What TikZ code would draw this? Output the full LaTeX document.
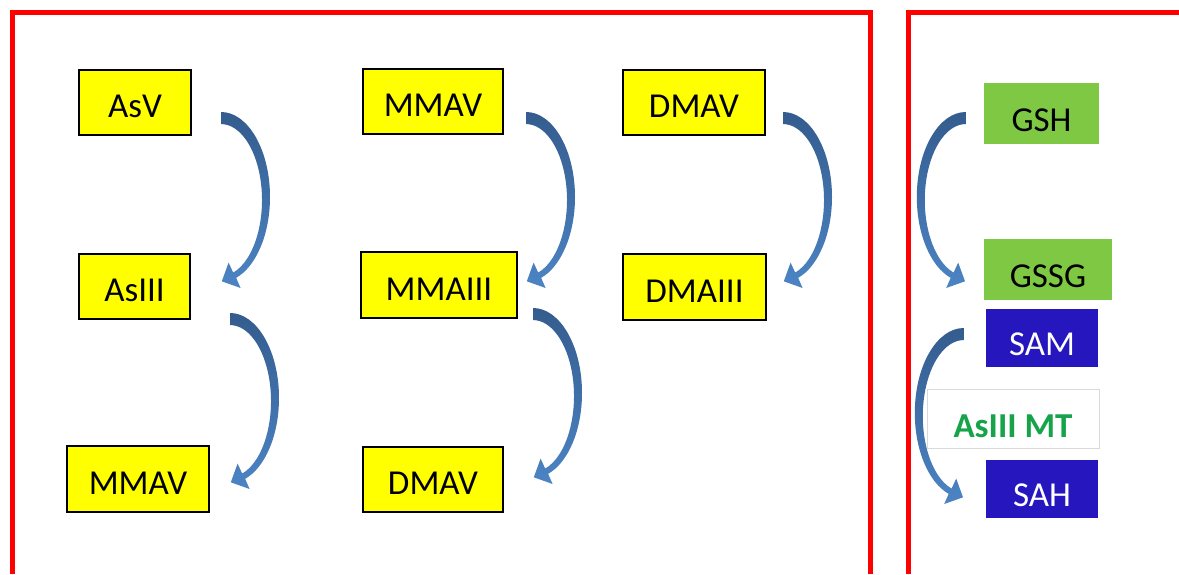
\documentclass[tikz,border=0pt]{standalone}
\usepackage{fontspec}
\setmainfont{Carlito}
\usetikzlibrary{calc}
\definecolor{boxyellow}{RGB}{255,255,0}
\definecolor{framered}{RGB}{255,0,0}
\definecolor{leafgreen}{RGB}{126,200,67}
\definecolor{deepblue}{RGB}{38,22,190}
\definecolor{mtgreen}{RGB}{22,163,74}
\definecolor{arrowdark}{RGB}{52,92,142}
\definecolor{arrowlight}{RGB}{76,132,196}
\begin{document}
\begin{tikzpicture}[x=1pt,y=-1pt,
  every node/.style={inner sep=0pt, font=\fontsize{35}{40}\selectfont},
  species/.style={draw=black, line width=2pt, fill=boxyellow, text height=30pt, text depth=0pt},
  thiol/.style={fill=leafgreen, text height=35pt, text depth=0pt},
  cofactor/.style={fill=deepblue, text=white, text height=35pt, text depth=0pt},
  enzyme/.style={draw=black!15, line width=1pt, fill=white, text=mtgreen,
    font=\fontsize{35}{40}\selectfont\bfseries, text height=37pt, text depth=0pt},
  frame/.style={draw=framered, line width=5pt},
  % tapered half-elliptic arrow, tail at the origin, head at the bottom
  bendarrow/.pic={
    \shade[top color=arrowdark, bottom color=arrowlight]
      (0,0) arc[start angle=-90, end angle=72, x radius=49, y radius=85]
      -- (19.6,176) -- (0.8,169.3) -- (7.6,150.6) -- (12.2,160.6)
      arc[start angle=72.7, end angle=-90, x radius=41, y radius=76]
      -- cycle;
  }
]
\useasboundingbox (0,0) rectangle (1179,574);
\fill[white] (0,0) rectangle (1179,574);

% panels
\draw[frame] (12.5,574) -- (12.5,12.5) -- (870.5,12.5) -- (870.5,574);
\draw[frame] (908.5,574) -- (908.5,12.5) -- (1179,12.5);

% arsenic species
\node[species, minimum width=112pt, minimum height=65pt] (asv)    at (135,102.5) {AsV};
\node[species, minimum width=111pt, minimum height=65pt] (asiii)  at (134.5,286.5) {AsIII};
\node[species, minimum width=142pt, minimum height=66pt] (mmavb)  at (138,479) {MMAV};
\node[species, minimum width=140pt, minimum height=65pt] (mmav)   at (433,101.5) {MMAV};
\node[species, minimum width=156pt, minimum height=66pt] (mmaiii) at (439,285) {MMAIII};
\node[species, minimum width=140pt, minimum height=65pt] (dmavb)  at (433,479.5) {DMAV};
\node[species, minimum width=142pt, minimum height=65pt] (dmav)   at (694,102.5) {DMAV};
\node[species, minimum width=143pt, minimum height=66pt] (dmaiii) at (694.5,287) {DMAIII};

% cofactors
\node[thiol, minimum width=115pt, minimum height=61pt] (gsh)  at (1041.5,113.5) {GSH};
\node[thiol, minimum width=128pt, minimum height=61pt] (gssg) at (1048,269.5) {GSSG};
\node[cofactor, minimum width=112pt, minimum height=58pt] (sam) at (1042,338) {SAM};
\node[cofactor, minimum width=112pt, minimum height=58pt] (sah) at (1042,489) {SAH};
\node[enzyme, minimum width=172pt, minimum height=59pt] (mt) at (1013,418.5) {AsIII MT};

% conversion arrows
\pic at ($(asv.east)+(29,9.5)$) {bendarrow};
\pic at ($(mmav.east)+(22,10.5)$) {bendarrow};
\pic at ($(dmav.east)+(17,9.5)$) {bendarrow};
\pic at ($(asiii.east)+(39,26.5)$) {bendarrow};
\pic at ($(mmaiii.east)+(15,23)$) {bendarrow};
\pic[xscale=-1] at ($(gsh.west)+(-18,-1.5)$) {bendarrow};
\pic[xscale=-1] at ($(sam.west)+(-22,-10)$) {bendarrow};
\end{tikzpicture}
\end{document}
